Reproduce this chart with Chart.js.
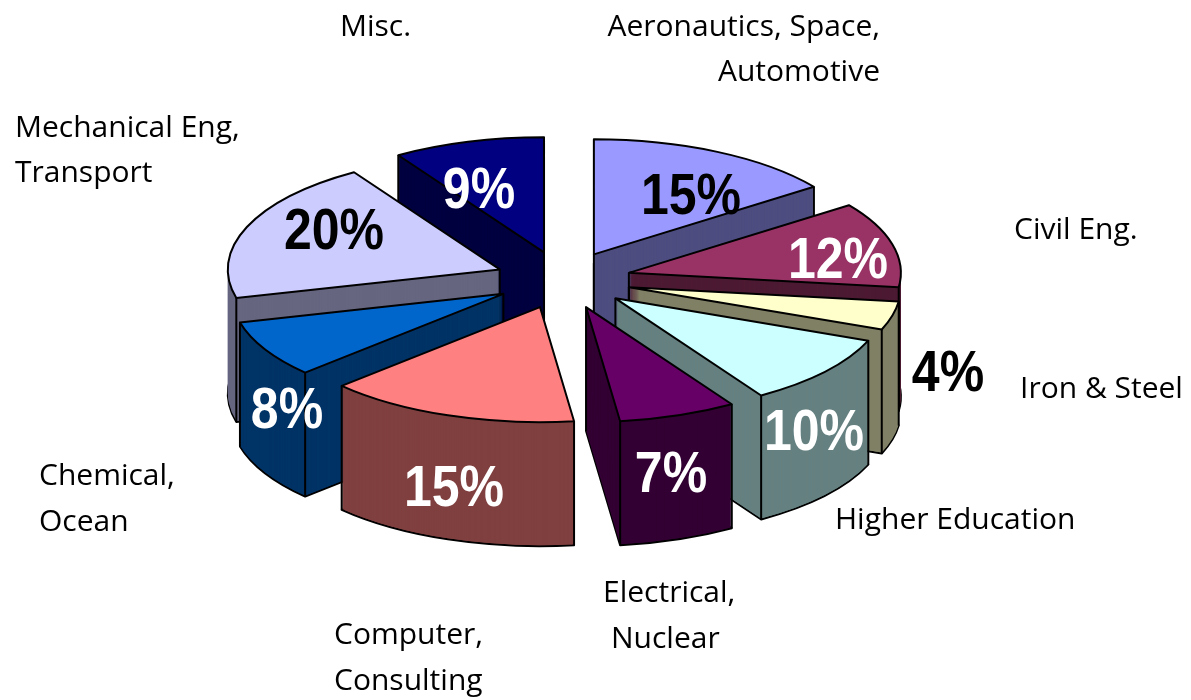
<!DOCTYPE html>
<html>
<head>
<meta charset="utf-8">
<style>
  html, body { margin: 0; background: #fff; }
  canvas { display: block; }
</style>
<script src="https://cdn.jsdelivr.net/npm/chart.js@4"></script>
</head>
<body>
<canvas id="fieldsChart" width="1191" height="700"></canvas>
<script>
var categories = ["Aeronautics, Space, Automotive", "Civil Eng.", "Iron & Steel", "Higher Education", "Electrical, Nuclear", "Computer, Consulting", "Chemical, Ocean", "Mechanical Eng, Transport", "Misc."];
var shares = [15, 12, 4, 10, 7, 15, 8, 20, 9];
var topColors = ["#9999ff", "#993366", "#ffffcc", "#ccffff", "#660066", "#ff8080", "#0066cc", "#ccccff", "#000080"];
var sideColors = ["#4d4d80", "#4d1a33", "#808066", "#668080", "#330033", "#804040", "#003366", "#666680", "#000040"];
var percentColors = ["#000", "#fff", "#000", "#fff", "#fff", "#fff", "#fff", "#000", "#fff"];

// text spots, in page pixels
var percentSpots = [[691, 198], [838, 262], [948, 375], [814, 434], [671, 476], [454, 490], [287, 412], [334, 233], [479, 192]];
var nameLines = [
  { text: "Aeronautics, Space,", x: 880, y: 27, align: "right" },
  { text: "Automotive", x: 880, y: 72, align: "right" },
  { text: "Civil Eng.", x: 1014, y: 230, align: "left" },
  { text: "Iron & Steel", x: 1020, y: 389, align: "left" },
  { text: "Higher Education", x: 835, y: 520, align: "left" },
  { text: "Electrical,", x: 603, y: 593, align: "left" },
  { text: "Nuclear", x: 611, y: 639, align: "left" },
  { text: "Computer,", x: 334, y: 635, align: "left" },
  { text: "Consulting", x: 334, y: 681, align: "left" },
  { text: "Chemical,", x: 39, y: 476, align: "left" },
  { text: "Ocean", x: 39, y: 522, align: "left" },
  { text: "Mechanical Eng,", x: 15, y: 128, align: "left" },
  { text: "Transport", x: 15, y: 173, align: "left" },
  { text: "Misc.", x: 340, y: 27, align: "left" }
];

var squash = 0.423;   // tilt of the pie
var explode = 68;     // how far each slice is pulled out
var depth = 124;      // height of the slices
var paintOrder = [0, 1, 2, 3, 4, 8, 7, 6, 5]; // back to front

function tilt(ctx, arc) {
  ctx.translate(arc.x, arc.y);
  ctx.scale(1, squash);
  ctx.translate(-arc.x, -arc.y);
  var mid = (arc.startAngle + arc.endAngle) / 2;
  ctx.translate(Math.cos(mid) * explode, Math.sin(mid) * explode);
}

function outline(ctx, arc, dy) {
  ctx.save();
  ctx.translate(0, dy);
  tilt(ctx, arc);
  ctx.beginPath();
  ctx.moveTo(arc.x, arc.y);
  ctx.arc(arc.x, arc.y, arc.outerRadius, arc.startAngle, arc.endAngle);
  ctx.closePath();
  ctx.restore();
  ctx.lineWidth = 2;
  ctx.lineJoin = "round";
  ctx.strokeStyle = "#000";
  ctx.stroke();
}

function drawArcAs(ctx, arc, color, dy) {
  var saved = arc.options;
  arc.options = Object.assign({}, saved, { backgroundColor: color, borderWidth: 0 });
  ctx.save();
  ctx.translate(0, dy);
  tilt(ctx, arc);
  arc.draw(ctx);
  ctx.restore();
  arc.options = saved;
}

// a vertical edge is hidden when the slice's own top face lies right below it
function hiddenBelow(arc, px, py) {
  var y = py + 2;
  if (Math.hypot(px, y) >= arc.outerRadius) return false;
  var a = Math.atan2(y, px);
  while (a < arc.startAngle) a += Math.PI * 2;
  return a <= arc.endAngle;
}

function edges(ctx, arc) {
  var mid = (arc.startAngle + arc.endAngle) / 2;
  var ox = arc.x + Math.cos(mid) * explode;
  var oy = arc.y + Math.sin(mid) * explode * squash;
  var r = arc.outerRadius;
  var pts = [
    [0, 0],
    [Math.cos(arc.startAngle) * r, Math.sin(arc.startAngle) * r],
    [Math.cos(arc.endAngle) * r, Math.sin(arc.endAngle) * r]
  ];
  ctx.lineWidth = 2;
  ctx.strokeStyle = "#000";
  pts.forEach(function (p) {
    if (hiddenBelow(arc, p[0], p[1])) return;
    var x = ox + p[0];
    var y = oy + p[1] * squash;
    ctx.beginPath();
    ctx.moveTo(x, y);
    ctx.lineTo(x, y + depth);
    ctx.stroke();
  });
}

var tiltedPie = {
  id: "tiltedPie",
  beforeDatasetsDraw: function (chart) {
    var ctx = chart.ctx;
    var arcs = chart.getDatasetMeta(0).data;
    paintOrder.forEach(function (i) {
      var arc = arcs[i];
      drawArcAs(ctx, arc, sideColors[i], depth);
      outline(ctx, arc, depth);
      for (var d = depth - 1; d > 0; d--) {
        drawArcAs(ctx, arc, sideColors[i], d);
      }
      edges(ctx, arc);
      drawArcAs(ctx, arc, topColors[i], 0);
      outline(ctx, arc, 0);
    });
    return false;
  },
  afterDraw: function (chart) {
    var ctx = chart.ctx;
    ctx.save();
    ctx.textBaseline = "middle";
    ctx.textAlign = "center";
    ctx.font = "bold 50px 'Liberation Sans'";
    shares.forEach(function (v, i) {
      ctx.save();
      ctx.translate(percentSpots[i][0], percentSpots[i][1]);
      ctx.scale(1, 1.15);
      ctx.fillStyle = percentColors[i];
      ctx.fillText(v + "%", 0, 0);
      ctx.restore();
    });
    ctx.font = "30px 'Open Sans'";
    ctx.fillStyle = "#000";
    nameLines.forEach(function (n) {
      ctx.textAlign = n.align;
      ctx.fillText(n.text, n.x, n.y);
    });
    ctx.restore();
  }
};

new Chart(document.getElementById("fieldsChart"), {
  type: "pie",
  data: {
    labels: categories,
    datasets: [{ data: shares, backgroundColor: topColors, borderWidth: 0 }]
  },
  options: {
    responsive: false,
    animation: false,
    layout: { padding: { left: 291, right: 356, top: 8, bottom: 148 } },
    plugins: { legend: { display: false }, tooltip: { enabled: false } }
  },
  plugins: [tiltedPie]
});
</script>
</body>
</html>
